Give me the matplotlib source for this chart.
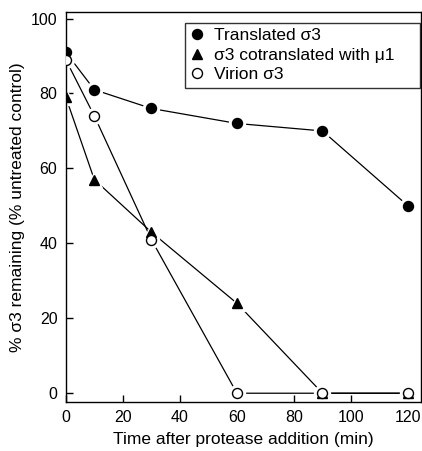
import matplotlib
matplotlib.use('Agg')  # noqa
import matplotlib.pyplot as plt

plt.rcParams['font.family'] = ['Liberation Sans', 'DejaVu Sans']

time = [0, 10, 30, 60, 90, 120]
translated = [91, 81, 76, 72, 70, 50]
cotranslated = [79, 57, 43, 24, 0, 0]
virion = [89, 74, 41, 0, 0, 0]

fig = plt.figure(figsize=(4.22, 4.51), dpi=100)
ax = fig.add_axes([0.156, 0.109, 0.842, 0.864])

series = [
    (translated, 'o', 'black', 'Translated σ3'),
    (cotranslated, '^', 'black', 'σ3 cotranslated with μ1'),
    (virion, 'o', 'white', 'Virion σ3'),
]

# lines first, then white halos so the lines stop short of the markers
for y, m, fc, lab in series:
    ax.plot(time, y, color='black', lw=0.9, zorder=1)
for y, m, fc, lab in series:
    ax.plot(time, y, ls='none', marker=m, ms=11.5, mfc='white', mec='white',
            zorder=2)
for y, m, fc, lab in series:
    ax.plot(time, y, ls='none', marker=m, ms=7.2, mfc=fc, mec='black',
            mew=1.0, zorder=3, label=lab)

ax.set_xlim(0, 124.6)
ax.set_ylim(-2.3, 101.7)
ax.set_xticks([0, 20, 40, 60, 80, 100, 120])
ax.set_yticks([0, 20, 40, 60, 80, 100])
ax.tick_params(direction='in', length=5, width=1, labelsize=11.5, pad=6)
for s in ax.spines.values():
    s.set_linewidth(1.0)

ax.set_xlabel('Time after protease addition (min)', fontsize=12.5, labelpad=5)
ax.set_ylabel('% σ3 remaining (% untreated control)', fontsize=12.5,
              labelpad=4)

leg = ax.legend(loc='upper left', mode='expand', fontsize=12.5, frameon=True,
                fancybox=False, edgecolor='black', borderpad=0.3,
                handlelength=0.8, handletextpad=0.6, labelspacing=0.25,
                borderaxespad=0, bbox_to_anchor=(0.334, 0, 0.663, 0.972))
leg.get_frame().set_linewidth(1.0)

plt.savefig('out.png', dpi=100)
